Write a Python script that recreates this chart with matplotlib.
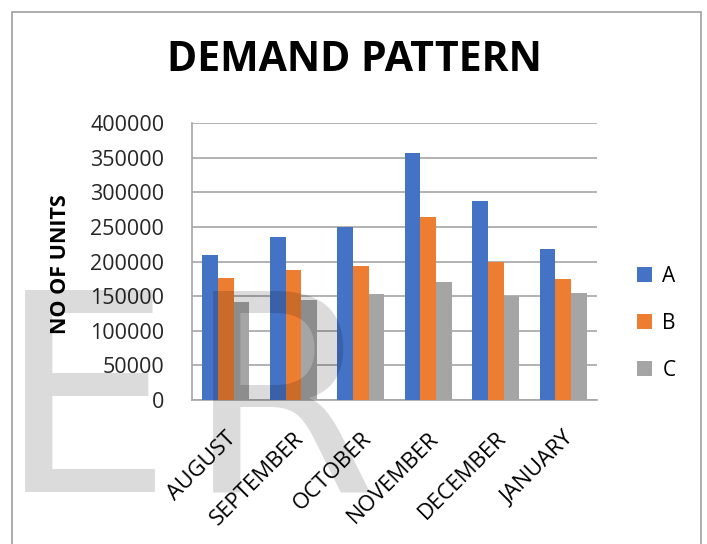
import numpy as np
import matplotlib
matplotlib.use("Agg")
import matplotlib.pyplot as plt
from matplotlib.patches import Rectangle
from matplotlib.transforms import ScaledTranslation

plt.rcParams['font.family'] = ['Open Sans', 'DejaVu Sans']

# data
months = ['AUGUST', 'SEPTEMBER', 'OCTOBER', 'NOVEMBER', 'DECEMBER', 'JANUARY']
units_a = [210000, 236000, 249500, 356500, 288000, 217500]
units_b = [176500, 187500, 193500, 264000, 199000, 174500]
units_c = [141000, 145000, 152500, 171000, 150500, 154000]
series = ['A', 'B', 'C']
colors = ['#4472C4', '#ED7D31', '#A5A5A5']

fig = plt.figure(figsize=(7.07, 5.44), dpi=100)
ax = fig.add_axes([0.2716, 0.2647, 0.5728, 0.5092])

x = np.arange(len(months))
w = 0.23
for i, (vals, name, col) in enumerate(zip([units_a, units_b, units_c], series, colors)):
    ax.bar(x + (i - 1) * w, vals, w, color=col, label=name, zorder=3)

ax.set_xlim(-0.5, len(months) - 0.5)
ax.set_ylim(0, 400000)
ax.set_yticks(np.arange(0, 400001, 50000))
ax.set_yticklabels([str(v) for v in range(0, 400001, 50000)], fontsize=15.5)
ax.set_xticks(x)
ax.set_xticklabels(months, fontsize=16, rotation=45, ha='right', va='top',
                   rotation_mode='anchor')
shift = ScaledTranslation(4 / 100, 0, fig.dpi_scale_trans)
for lab in ax.get_xticklabels():
    lab.set_transform(lab.get_transform() + shift)
ax.tick_params(axis='x', length=0, pad=20)
ax.tick_params(axis='y', length=0, pad=20, colors='#262626')
ax.grid(axis='y', color='#a6a6a6', linewidth=1.2, zorder=0)
for s in ['top', 'right']:
    ax.spines[s].set_visible(False)
for s in ['left', 'bottom']:
    ax.spines[s].set_color('#a6a6a6')
    ax.spines[s].set_linewidth(1.2)

fig.text(0.502, 0.888, 'DEMAND PATTERN', fontsize=29.5, fontweight='bold',
         ha='center', va='center')
fig.text(0.085, 0.515, 'NO OF UNITS', fontsize=15.5, fontweight='bold',
         rotation=90, ha='center', va='center')

fig.legend(loc='center left', bbox_to_anchor=(0.875, 0.406), frameon=False,
           fontsize=15, handlelength=0.7, handleheight=0.7, handletextpad=0.5,
           labelspacing=1.25)

# chart border
fig.add_artist(Rectangle((12 / 707, -0.1), 689 / 707, 1.1 - 12 / 544,
                         transform=fig.transFigure, fill=False,
                         edgecolor='#a0a0a0', linewidth=1.2))

# watermark letters
fig.text(-2 / 707, 1 - 492 / 544, 'E', fontsize=199, family='DejaVu Sans',
         color=(0, 0, 0, 0.14), ha='left', va='baseline', zorder=5)
fig.text(186 / 707, 1 - 492 / 544, 'R', fontsize=199, family='DejaVu Sans',
         color=(0, 0, 0, 0.14), ha='left', va='baseline', zorder=5)

fig.savefig('out.png', dpi=100)
